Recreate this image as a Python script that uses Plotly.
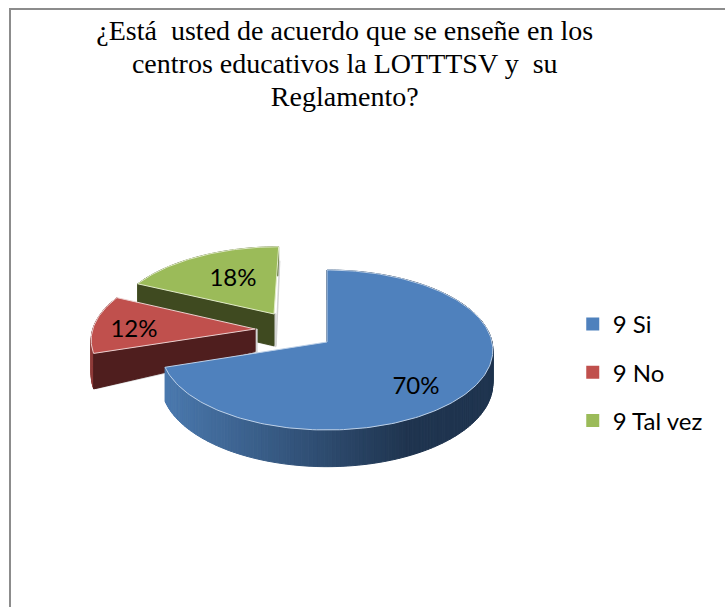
import numpy as np
import plotly.graph_objects as go

# ---- data ----
TITLE_LINES = ["¿Está\u00a0 usted de acuerdo que se enseñe en los",
               "centros educativos la LOTTTSV y\u00a0 su",
               "Reglamento?"]
CATEGORIES = ["9 Si", "9 No", "9 Tal vez"]
VALUES = [70, 12, 18]

# ---- style ----
FACE = ["#4f81bd", "#c0504d", "#9bbb59"]
EDGE = ["#bcd0e8", "#ecd0cf", "#e2ecc8"]
CUT = ["#26405f", "#4f1e1e", "#3f4a20"]
ARC = ["#2d5079", "#8f3b39", "#5f7336"]
PULL = [(0.0, 0.0), (-0.443, 0.167), (-0.333, 0.367)]
DEPTH_APEX = [33, 23, 33]
DEPTH_RIM = [33, 35, 33]
LABEL_XY = [(416, 388), (134, 331), (233, 280)]
CX, CY, RX, RY, K = 327, 342, 165, 79.2, 0.1


def project(X, Y, depth=0.0):
    s = 1 / (1 + K * Y)
    return CX + RX * X * s, CY - RY * Y * s + depth * s


def mix(a, b, t):
    ca = [int(a[i:i + 2], 16) for i in (1, 3, 5)]
    cb = [int(b[i:i + 2], 16) for i in (1, 3, 5)]
    return "rgb(%d,%d,%d)" % tuple(round(p + (q - p) * t) for p, q in zip(ca, cb))


def poly(xs, ys, fill, line=None, width=1):
    return go.Scatter(x=list(xs), y=list(ys), mode="lines", fill="toself", fillcolor=fill,
                      line=dict(color=line or fill, width=width), hoverinfo="skip", showlegend=False)


fig = go.Figure()
total = sum(VALUES)
bounds = np.cumsum([0] + VALUES) / total * 2 * np.pi
for i in (2, 1, 0):  # back to front
    a0, a1 = bounds[i], bounds[i + 1]
    px, py = PULL[i]
    th = np.linspace(a0, a1, max(int(VALUES[i] * 3), 12))
    X, Y = px + np.sin(th), py + np.cos(th)
    ax, ay = project(px, py)
    fx, fy = project(X, Y)
    dr = DEPTH_RIM[i]
    da = DEPTH_APEX[i]
    # outer rim wall
    for j in range(len(th) - 1):
        bx0, by0 = project(X[j], Y[j], dr)
        bx1, by1 = project(X[j + 1], Y[j + 1], dr)
        if i == 0:
            t = np.clip((fx[j] - 168) / 240, 0, 1)
            col = mix("#4a78ad", "#1f344f", t)
        else:
            col = ARC[i]
        fig.add_trace(poly([fx[j], fx[j + 1], bx1, bx0, fx[j]], [fy[j], fy[j + 1], by1, by0, fy[j]], col))
    # cut wall on the first edge seen from the front
    bx0, by0 = project(X[0], Y[0], dr)
    bax, bay = project(px, py, da)
    if i == 0:
        fig.add_trace(poly([ax, fx[0], bx0, bax, ax], [ay, fy[0], by0, bay, ay], CUT[i], CUT[i], 1.5))
    else:
        fig.add_trace(poly([ax + 2, fx[0] + 2, bx0 + 2, bax + 2, ax + 2], [ay, fy[0], by0, bay + 1, ay], "#d4d4d4"))
        ex, ey = project(X[-1], Y[-1], 0)
        fig.add_trace(go.Scatter(x=[ex + 1, ax + 2], y=[ey + 14, bay], mode="lines",
                                 line=dict(color="#d4d4d4", width=1.5), hoverinfo="skip", showlegend=False))
        fig.add_trace(poly([ax, fx[0], bx0, bax, ax], [ay, fy[0], by0, bay, ay], CUT[i]))
    # top face
    fig.add_trace(poly(np.r_[ax, fx, ax], np.r_[ay, fy, ay], FACE[i], EDGE[i], 1))

# percent labels
for i, (lx, ly) in enumerate(LABEL_XY):
    fig.add_trace(go.Scatter(x=[lx], y=[ly], mode="text", text=[f"{VALUES[i]}%"],
                             textfont=dict(family="Lato", size=24, color="#000000"),
                             textposition="middle center", hoverinfo="skip", showlegend=False))

# legend entries
for i, name in enumerate(CATEGORIES):
    fig.add_trace(go.Scatter(x=[None], y=[None], mode="markers", name=name, legendgroup=name,
                             marker=dict(symbol="square", size=13, color=FACE[i])))

title_html = "<br>".join(f'<span style="font-size:28px">{t}</span>' for t in TITLE_LINES)

fig.update_layout(
    width=725, height=607, margin=dict(l=0, r=0, t=0, b=0),
    paper_bgcolor="#ffffff", plot_bgcolor="#ffffff",
    title=dict(text=title_html, x=0.4755, xanchor="center", y=0.934, yanchor="top",
               font=dict(family="Liberation Serif", size=25.4, color="#000000")),
    xaxis=dict(range=[0, 725], visible=False, fixedrange=True),
    yaxis=dict(range=[607, 0], visible=False, fixedrange=True),
    legend=dict(x=0.79, y=0.5025, xanchor="left", yanchor="top", tracegroupgap=14,
                font=dict(family="Lato", size=24, color="#000000"), bgcolor="rgba(0,0,0,0)"),
    shapes=[dict(type="rect", xref="x", yref="y", x0=10, y0=9, x1=760, y1=640,
                 line=dict(color="#8c8c8c", width=2))],
)
fig.write_html("out.html", config={"displayModeBar": False},
               post_script="document.body.style.margin='0';document.body.style.overflow='hidden';")
